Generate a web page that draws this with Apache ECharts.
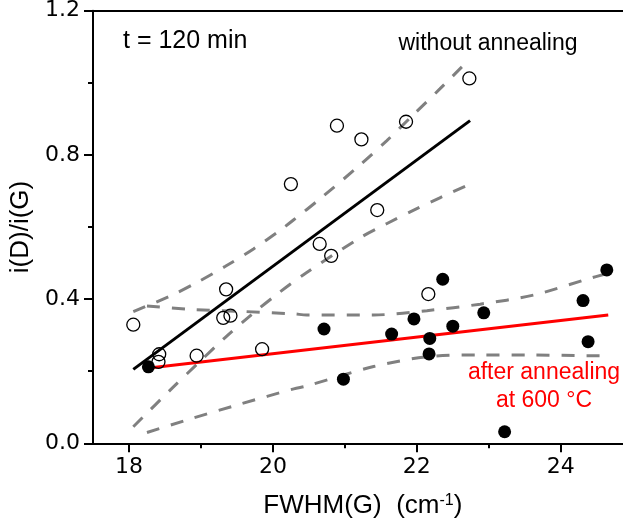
<!DOCTYPE html>
<html>
<head>
<meta charset="utf-8">
<script src="https://cdn.jsdelivr.net/npm/echarts@6/dist/echarts.min.js"></script>
<style>html,body{margin:0;padding:0;background:#fff;}#c{width:623px;height:529px;}</style>
</head>
<body>
<div id="c"></div>
<script>
// Without annealing (open circles)
const openX = [18.06, 18.42, 18.41, 18.94, 19.31, 19.35, 19.41, 19.85, 20.25, 20.65, 20.81, 20.89, 21.23, 21.45, 21.85, 22.16, 22.73];
const openY = [0.329, 0.247, 0.226, 0.243, 0.348, 0.427, 0.354, 0.261, 0.719, 0.553, 0.520, 0.881, 0.843, 0.647, 0.892, 0.414, 1.012];
// After annealing at 600 °C (filled circles)
const filledX = [18.27, 20.71, 20.98, 21.65, 21.96, 22.17, 22.18, 22.36, 22.50, 22.93, 23.22, 24.31, 24.38, 24.64];
const filledY = [0.212, 0.317, 0.178, 0.303, 0.345, 0.248, 0.291, 0.455, 0.325, 0.362, 0.032, 0.396, 0.282, 0.481];
// Linear fits (end points)
const fitBlackX = [18.06, 22.74];
const fitBlackY = [0.205, 0.895];
const fitRedX = [18.25, 24.66];
const fitRedY = [0.208, 0.356];
// Confidence bands
const blackUpX = [18.06, 18.62, 18.97, 19.34, 19.73, 20.10, 20.29, 20.66, 21.21, 21.58, 21.95, 22.32, 22.72];
const blackUpY = [0.365, 0.413, 0.449, 0.491, 0.539, 0.591, 0.620, 0.679, 0.772, 0.839, 0.911, 0.983, 1.063];
const blackLoX = [18.06, 18.60, 18.97, 19.34, 19.71, 20.08, 20.45, 21.21, 21.58, 21.95, 22.32, 22.72];
const blackLoY = [0.046, 0.153, 0.224, 0.294, 0.358, 0.417, 0.471, 0.570, 0.609, 0.646, 0.681, 0.717];
const redUpX = [18.25, 18.81, 19.55, 20.29, 20.47, 21.40, 22.14, 22.88, 23.62, 24.36, 24.66];
const redUpY = [0.381, 0.372, 0.366, 0.359, 0.356, 0.356, 0.368, 0.386, 0.411, 0.455, 0.472];
const redLoX = [18.25, 18.81, 19.55, 20.29, 20.47, 21.40, 22.14, 22.88, 23.62, 24.36, 24.66];
const redLoY = [0.030, 0.065, 0.109, 0.151, 0.159, 0.213, 0.240, 0.245, 0.245, 0.243, 0.243];
// Axis ticks
const xMajor = [18, 20, 22, 24];
const xMinor = [19, 21, 23];

const zip = (xs, ys) => xs.map((x, i) => [x, ys[i]]);

const chart = echarts.init(document.getElementById('c'), null, {renderer: 'canvas'});
const axisFont = {fontFamily: 'DejaVu Sans', fontSize: 22, color: '#000'};
const band = (xs, ys) => ({
  type: 'line', data: zip(xs, ys), showSymbol: false, symbol: 'none', smooth: 0.3,
  lineStyle: {color: '#808080', width: 3, type: [13, 12]}, z: 2, silent: true
});

chart.setOption({
  animation: false,
  backgroundColor: '#fff',
  grid: {left: 93, top: 10.7, right: -9.7, bottom: 85.7, containLabel: false, outerBoundsMode: 'none'},
  xAxis: [
    {
      type: 'value', min: 17.5, max: 25, position: 'bottom',
      axisLine: {show: true, onZero: false, lineStyle: {color: '#000', width: 2}},
      axisTick: {show: true, customValues: xMajor, length: 9, lineStyle: {color: '#000', width: 2}},
      axisLabel: Object.assign({customValues: xMajor, margin: 13}, axisFont),
      splitLine: {show: false},
      name: 'FWHM(G)  (cm{sup|-1})',
      nameLocation: 'middle', nameGap: 49,
      nameTextStyle: {fontFamily: 'Liberation Sans', fontSize: 26, color: '#000',
        rich: {sup: {fontFamily: 'Liberation Sans', fontSize: 16, verticalAlign: 'top', padding: [0, 0, 12, 0]}}}
    },
    {
      type: 'value', min: 17.5, max: 25, position: 'bottom',
      axisLine: {show: false},
      axisTick: {show: true, customValues: xMinor, length: 5, lineStyle: {color: '#000', width: 2}},
      axisLabel: {show: false}, splitLine: {show: false}
    },
    {
      type: 'value', min: 17.5, max: 25, position: 'top',
      axisLine: {show: true, onZero: false, lineStyle: {color: '#000', width: 2}},
      axisTick: {show: false}, axisLabel: {show: false}, splitLine: {show: false}
    }
  ],
  yAxis: {
    type: 'value', min: 0, max: 1.2, interval: 0.4,
    axisLine: {show: true, onZero: false, lineStyle: {color: '#000', width: 2}},
    axisTick: {show: true, length: 9, lineStyle: {color: '#000', width: 2}},
    minorTick: {show: true, splitNumber: 2, length: 5, lineStyle: {color: '#000', width: 2}},
    axisLabel: Object.assign({margin: 13, formatter: v => v.toFixed(1)}, axisFont),
    splitLine: {show: false}, minorSplitLine: {show: false},
    name: 'i(D)/i(G)', nameLocation: 'middle', nameGap: 46, nameRotate: 90,
    nameTextStyle: {fontFamily: 'Liberation Sans', fontSize: 26, color: '#000'}
  },
  series: [
    band(blackUpX, blackUpY),
    band(blackLoX, blackLoY),
    band(redUpX, redUpY),
    band(redLoX, redLoY),
    {type: 'line', data: zip(fitBlackX, fitBlackY), showSymbol: false, symbol: 'none',
      lineStyle: {color: '#000', width: 3}, z: 3},
    {type: 'line', data: zip(fitRedX, fitRedY), showSymbol: false, symbol: 'none',
      lineStyle: {color: '#ff0000', width: 3}, z: 3},
    {type: 'scatter', data: zip(openX, openY), symbol: 'circle', symbolSize: 13,
      itemStyle: {color: 'rgba(0,0,0,0)', borderColor: '#000', borderWidth: 1.3, opacity: 1}, z: 4},
    {type: 'scatter', data: zip(filledX, filledY), symbol: 'circle', symbolSize: 13,
      itemStyle: {color: '#000', opacity: 1}, z: 5}
  ],
  graphic: [
    {type: 'text', left: 123, top: 29, style: {text: 't = 120 min', font: '25px "Liberation Sans"', fill: '#000'}},
    {type: 'text', x: 488, y: 32, style: {text: 'without annealing', font: '23px "Liberation Sans"', fill: '#000', textAlign: 'center'}},
    {type: 'text', x: 544, y: 359, style: {text: 'after annealing\nat 600 °C', font: '23px "Liberation Sans"', fill: '#ff0000', textAlign: 'center', lineHeight: 28}}
  ]
});
</script>
</body>
</html>
